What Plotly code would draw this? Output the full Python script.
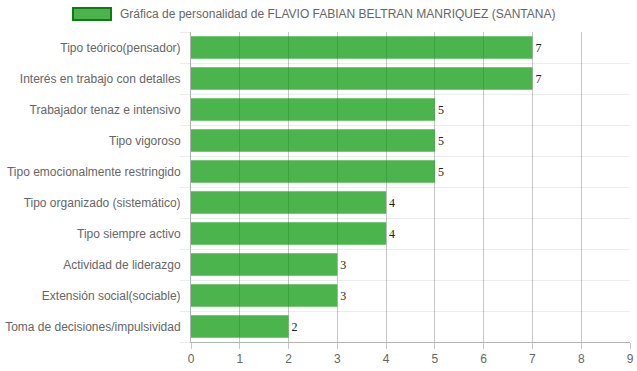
import plotly.graph_objects as go

categories = [
    "Tipo teórico(pensador)",
    "Interés en trabajo con detalles",
    "Trabajador tenaz e intensivo",
    "Tipo vigoroso",
    "Tipo emocionalmente restringido",
    "Tipo organizado (sistemático)",
    "Tipo siempre activo",
    "Actividad de liderazgo",
    "Extensión social(sociable)",
    "Toma de decisiones/impulsividad",
]
values = [7, 7, 5, 5, 5, 4, 4, 3, 3, 2]
series_name = "Gráfica de personalidad de FLAVIO FABIAN BELTRAN MANRIQUEZ (SANTANA)"
x_ticks = list(range(0, 10))

positions = list(range(len(categories)))
fill = "rgba(0,148,0,0.7)"

fig = go.Figure()
fig.add_trace(go.Bar(
    x=values, y=positions, orientation="h",
    marker=dict(color=fill, line=dict(width=0)),
    text=[str(v) for v in values], textposition="outside",
    textfont=dict(family="Liberation Serif", size=12, color="#222"),
    cliponaxis=False, name=series_name, showlegend=False,
    hoverinfo="skip",
))

L, R, T, B = 191, 7, 32, 29
W, H = 637, 371
pw, ph = W - L - R, H - T - B

def px_x(p):
    return (p - L) / pw

def px_y(p):
    return 1 + (T - p) / ph

fig.update_layout(
    width=W, height=H,
    margin=dict(l=L, r=R, t=T, b=B, autoexpand=False),
    plot_bgcolor="white", paper_bgcolor="white",
    font=dict(family="Liberation Sans, Arial", size=12, color="#666"),
    bargap=0.28,
    xaxis=dict(
        range=[0, 9], tickvals=x_ticks, showgrid=True, automargin=False,
        gridcolor="rgba(0,0,0,0.22)", gridwidth=1,
        zeroline=False, showline=True, linecolor="rgba(0,0,0,0.3)",
        ticks="outside", ticklen=6, tickcolor="rgba(0,0,0,0.22)",
        tickfont=dict(size=12, color="#666"),
    ),
    yaxis=dict(
        range=[len(categories) - 0.5, -0.5], automargin=False,
        tickvals=positions, ticktext=categories,
        showgrid=False, zeroline=False,
        showline=True, linecolor="rgba(0,0,0,0.3)",
        ticks="outside", ticklen=7, tickcolor="rgba(0,0,0,0)",
        tickfont=dict(size=12, color="#666"),
        minor=dict(tick0=0.5, dtick=1, showgrid=True,
                   gridcolor="rgba(0,0,0,0.07)", gridwidth=1,
                   ticks="outside", ticklen=10, tickcolor="rgba(0,0,0,0.07)"),
    ),
    shapes=[dict(
        type="rect", xref="paper", yref="paper",
        x0=px_x(73), x1=px_x(111), y0=px_y(20), y1=px_y(8),
        fillcolor=fill, line=dict(color="#0e7d0e", width=2),
    )],
    annotations=[dict(
        text=series_name, xref="paper", yref="paper",
        x=px_x(118), y=px_y(14), xanchor="left", yanchor="middle",
        showarrow=False, font=dict(size=12, color="#666"),
    )],
)

fig.write_html(
    "out.html",
    config={"displayModeBar": False},
    post_script="document.body.style.margin='0';document.body.style.overflow='hidden';",
)
